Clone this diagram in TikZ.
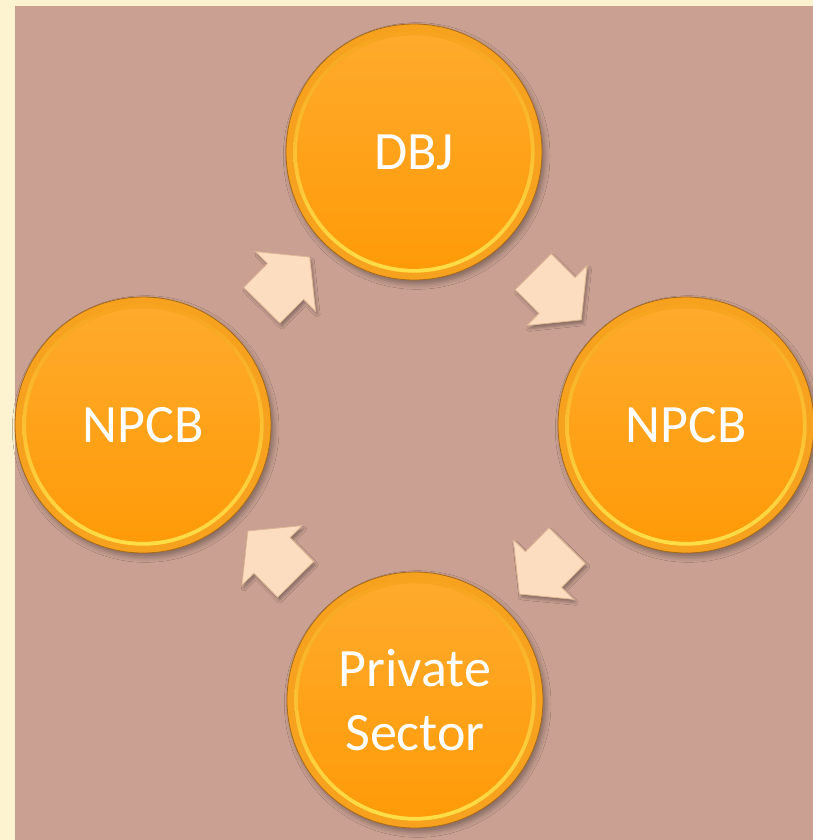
\documentclass[tikz,border=0pt]{standalone}
\usepackage{fontspec}
\setmainfont{Carlito}
\usetikzlibrary{shapes.arrows,shadows.blur}
\definecolor{frame}{HTML}{FDF3D0}
\definecolor{board}{HTML}{C9A092}
\definecolor{rim}{HTML}{F7A21E}
\definecolor{rimedge}{HTML}{A5691C}
\definecolor{glow}{HTML}{FFE048}
\definecolor{core}{HTML}{FF9B08}
\definecolor{coretop}{HTML}{FFAA2C}
\definecolor{peach}{HTML}{FDDDBF}
\definecolor{peachedge}{HTML}{DDB693}
\tikzset{
  disc/.style={circle, minimum size=192pt, inner sep=0pt, fill=rim, draw=rimedge,
    line width=0.6pt, text=white, font=\fontsize{40.5}{48}\selectfont, align=center,
    blur shadow={shadow xshift=2pt, shadow yshift=-3pt, shadow blur radius=4pt, shadow opacity=35},
    path picture={
      \fill[top color=rim, bottom color=glow] (path picture bounding box.center) circle (90.5pt);
      \fill[top color=coretop, bottom color=core] (path picture bounding box.center) circle (87.5pt);
    }},
  turn/.style={single arrow, single arrow tip angle=102, single arrow head extend=12.75pt,
    minimum width=63pt, minimum height=51pt, inner xsep=0pt, inner ysep=18.75pt,
    fill=peach, draw=peachedge, line width=0.6pt,
    blur shadow={shadow xshift=1.5pt, shadow yshift=-2.5pt, shadow opacity=30}},
}

\begin{document}
\begin{tikzpicture}[x=0.75pt, y=0.75pt]
\useasboundingbox (0,0) rectangle (813,-840);
\fill[frame] (0,0) rectangle (813,-840);
\fill[board] (15,-6) rectangle (813,-840);

% four stations of the cycle
\node[disc] (dbj) at (414,-152) {DBJ};
\node[disc] (npcbR) at (686,-425) {NPCB};
\node[disc] (priv) at (415,-700) {Private\\Sector};
\node[disc] (npcbL) at (143,-425) {NPCB};

% block arrows halfway between neighbours
\foreach \from/\to in {npcbL/dbj, dbj/npcbR, npcbR/priv, priv/npcbL}
  \path (\from) -- (\to) node[turn, midway, sloped, allow upside down] (t-\from) {};

\end{tikzpicture}
\end{document}
